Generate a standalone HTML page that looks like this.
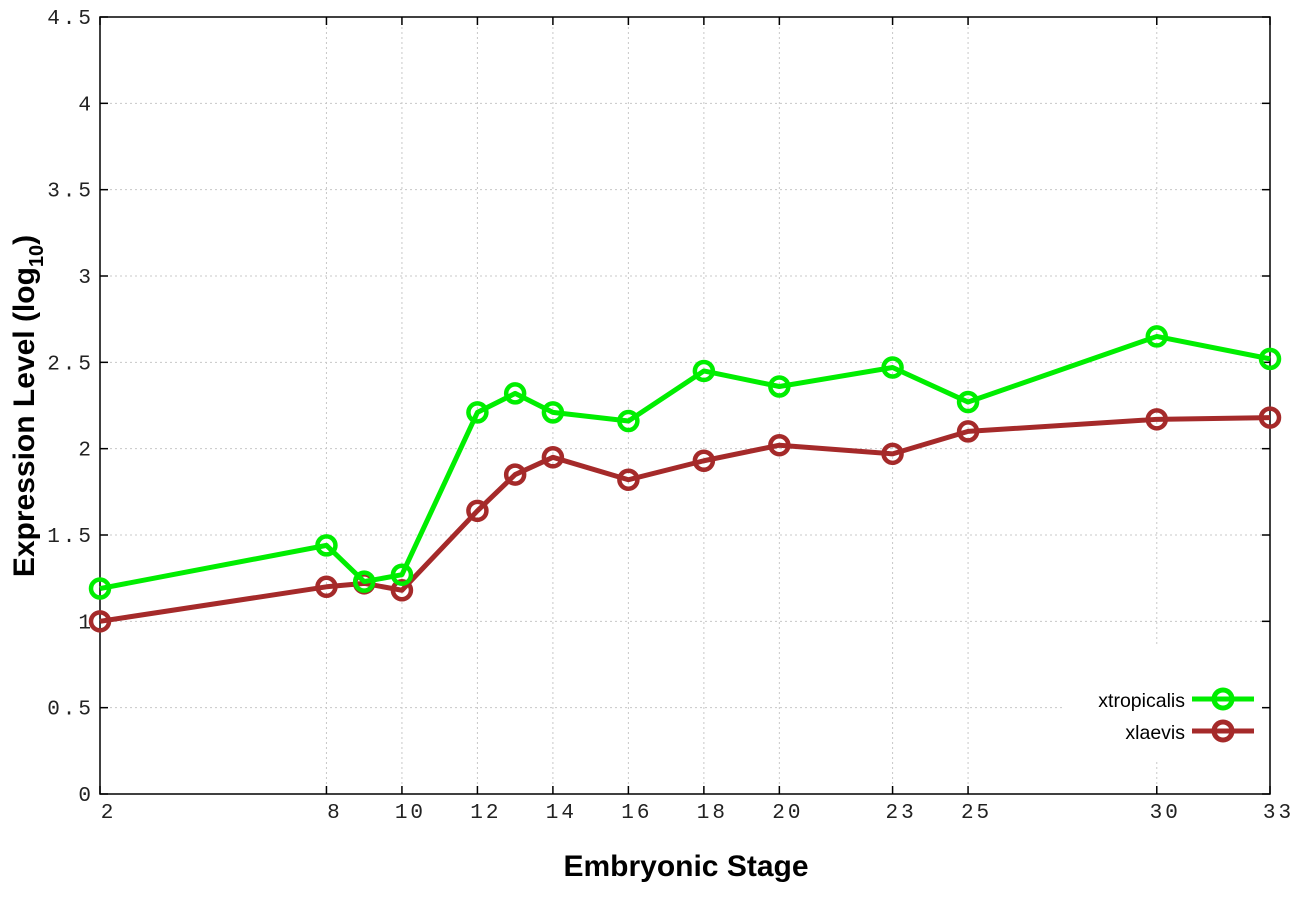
<!DOCTYPE html>
<html><head><meta charset="utf-8"><style>body{margin:0;background:#fff}</style></head><body>
<svg width="1296" height="907" xmlns="http://www.w3.org/2000/svg">
<rect width="1296" height="907" fill="#fff"/>
<g id="grid" stroke="#c8c8c8" stroke-width="1" stroke-dasharray="2,3"></g>
<rect x="1065" y="645" width="200" height="115" fill="#fff"/>
<g id="axes" stroke="#000" stroke-width="1.5" fill="none"></g>
<g id="labels" font-family="'Liberation Mono',monospace" font-size="21" fill="#222" letter-spacing="3"></g>
<g id="series"></g>
<text x="686" y="876" font-family="'Liberation Sans',sans-serif" font-weight="bold" font-size="30" text-anchor="middle">Embryonic Stage</text>
<text transform="translate(34,406) rotate(-90)" font-family="'Liberation Sans',sans-serif" font-weight="bold" font-size="30" text-anchor="middle">Expression Level (log<tspan font-size="20" dy="9">10</tspan><tspan dy="-9">)</tspan></text>
<g font-family="'Liberation Sans',sans-serif" font-size="19.5" fill="#000" text-anchor="end">
<text x="1185" y="707">xtropicalis</text>
<text x="1185" y="739">xlaevis</text>
</g>
<g stroke-width="5" fill="none">
<line x1="1192" y1="699" x2="1254" y2="699" stroke="#00ee00"/><circle cx="1223" cy="699" r="9" stroke="#00ee00"/>
<line x1="1192" y1="731" x2="1254" y2="731" stroke="#a52a2a"/><circle cx="1223" cy="731" r="9" stroke="#a52a2a"/>
</g>
</svg>
<script>
const L=100,R=1270,T=17,B=794;
const X=s=>L+(s-2)*(R-L)/31, Y=v=>B-v*(B-T)/4.5;
const stages=[2,8,9,10,12,13,14,16,18,20,23,25,30,33];
const g=[1.19,1.44,1.23,1.27,2.21,2.32,2.21,2.16,2.45,2.36,2.47,2.27,2.65,2.52];
const r=[1.00,1.20,1.22,1.18,1.64,1.85,1.95,1.82,1.93,2.02,1.97,2.10,2.17,2.18];
const ns="http://www.w3.org/2000/svg";
function el(p,t,a,txt){const e=document.createElementNS(ns,t);for(const k in a)e.setAttribute(k,a[k]);if(txt!==undefined)e.textContent=txt;p.appendChild(e);return e;}
const grid=document.getElementById('grid'),axes=document.getElementById('axes'),lab=document.getElementById('labels'),ser=document.getElementById('series');
const xt=[2,8,10,12,14,16,18,20,23,25,30,33];
xt.forEach(s=>{const x=X(s);if(s!=2&&s!=33)el(grid,'line',{x1:x,y1:T,x2:x,y2:B});
el(axes,'line',{x1:x,y1:B,x2:x,y2:B-8});el(axes,'line',{x1:x,y1:T,x2:x,y2:T+8});
el(lab,'text',{x:x+8.5,y:818,'text-anchor':'middle'},String(s));});
for(let i=0;i<=9;i++){const v=i*0.5,y=Y(v);if(i>0&&i<9)el(grid,'line',{x1:L,y1:y,x2:R,y2:y});
el(axes,'line',{x1:L,y1:y,x2:L+8,y2:y});el(axes,'line',{x1:R,y1:y,x2:R-8,y2:y});
el(lab,'text',{x:94,y:y+7,'text-anchor':'end'},String(v));}
el(axes,'rect',{x:L,y:T,width:R-L,height:B-T});
function draw(d,c){el(ser,'polyline',{points:stages.map((s,i)=>X(s)+','+Y(d[i])).join(' '),fill:'none',stroke:c,'stroke-width':5,'stroke-linejoin':'round'});
stages.forEach((s,i)=>el(ser,'circle',{cx:X(s),cy:Y(d[i]),r:9,fill:'none',stroke:c,'stroke-width':4.5}));}
draw(r,'#a52a2a');draw(g,'#00ee00');
</script>
</body></html>
